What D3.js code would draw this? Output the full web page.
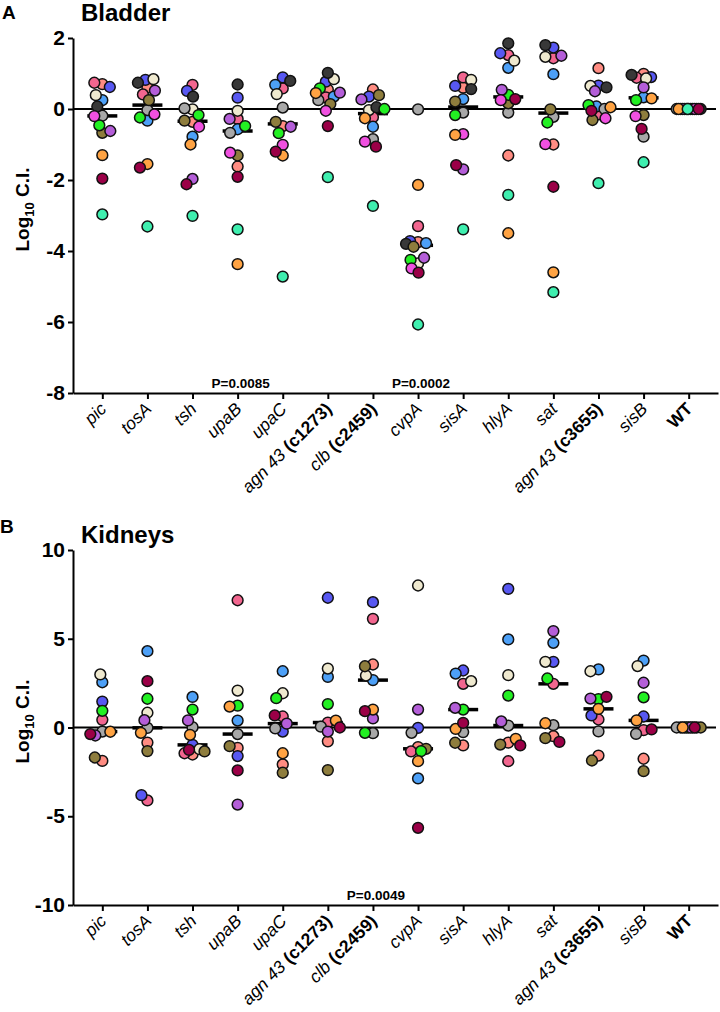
<!DOCTYPE html>
<html><head><meta charset="utf-8">
<script src="https://cdn.jsdelivr.net/npm/d3@7"></script>
<style>body{margin:0;background:#fff}svg{display:block;font-family:"Liberation Sans",Arial,sans-serif}</style>
</head><body>
<svg id="chart" width="720" height="1012"></svg>
<script>
// ---------- DATA ----------
const genes = ["pic","tosA","tsh","upaB","upaC","agn43_c1273","clb_c2459","cvpA","sisA","hlyA","sat","agn43_c3655","sisB","WT"];
const geneLabels = [
  [["pic","i"]],[["tosA","i"]],[["tsh","i"]],[["upaB","i"]],[["upaC","i"]],
  [["agn 43 ","i"],["(c1273)","b"]],
  [["clb ","i"],["(c2459)","b"]],
  [["cvpA","i"]],[["sisA","i"]],[["hlyA","i"]],[["sat","i"]],
  [["agn 43 ","i"],["(c3655)","b"]],
  [["sisB","i"]],[["WT","b"]]
];
// mice (one colour per animal)
const mice = ["salmon","pink","blue","lightblue","beige","gray","darkgray","olive","green","purple","magenta","orange","maroon","aqua"];
const mouseColors = ["#FF8C82","#F2668F","#5858F2","#4DA0F7","#EFE9CF","#A8A8A8","#383838","#8E7D3D","#22F022","#B45ED8","#F050E0","#FFA343","#9B0047","#3FEFAF"];

// Bladder log10 C.I. — rows = genes, columns = mice
const bladder = [
  [0.70,0.74,0.62,0.25,0.39,-0.19,0.07,-0.67,-0.46,-0.62,-0.20,-1.30,-1.96,-2.97],
  [0.60,0.41,0.82,-0.33,0.84,-0.03,0.74,0.25,-0.24,0.52,-0.15,-1.55,-1.65,-3.31],
  [-0.36,0.68,0.51,-0.78,-0.01,0.02,0.35,-0.33,-0.17,-1.97,-0.50,-1.00,-2.12,-3.01],
  [-1.62,-0.28,0.32,-0.57,-0.05,-0.67,0.69,-1.31,-0.48,-0.28,-1.23,-4.37,-1.91,-3.39],
  [-0.48,0.58,0.89,0.68,0.42,0.04,0.79,-0.36,-0.68,-0.50,-1.01,-1.31,-1.20,-4.72],
  [0.55,0.33,0.77,0.35,0.84,0.25,1.02,0.14,0.58,0.46,-0.05,0.45,-0.48,-1.92],
  [0.55,-0.23,0.35,-0.50,-0.03,-0.85,0.05,0.39,0.00,0.27,-0.92,-0.26,-1.06,-2.73],
  [-3.75,-3.30,-3.72,-3.78,-4.35,-0.01,-3.80,-3.88,-4.25,-4.19,-4.49,-2.14,-4.61,-6.07],
  [0.60,0.89,0.65,0.28,0.82,-0.10,0.56,0.21,-0.17,-1.70,-0.71,-0.73,-1.58,-3.39],
  [-1.31,1.52,1.57,1.16,1.36,-0.10,1.85,0.16,0.40,0.54,0.25,-3.50,0.28,-2.42],
  [-1.00,1.43,1.73,0.98,1.47,-0.22,1.80,-0.01,-0.38,1.50,-0.99,-4.60,-2.19,-5.16],
  [1.15,-0.15,0.66,0.07,0.65,0.00,0.61,-0.31,0.11,0.50,-0.26,0.05,-0.05,-2.09],
  [0.99,0.88,0.90,0.33,0.86,-0.78,0.96,-0.17,0.25,0.61,-0.20,0.30,-0.56,-1.50],
  [0,0,0,0,0,0,0,0,0,0,0,0,0,0]
];
// Kidneys log10 C.I.
const kidneys = [
  [-1.88,0.43,1.46,2.55,2.99,-0.23,null,-1.69,0.94,-0.45,null,-0.24,-0.37,null],
  [-0.85,-4.11,-3.81,4.30,0.83,-0.02,null,-1.33,1.62,0.41,null,-0.30,2.61,null],
  [-1.52,-1.45,-0.98,1.72,-1.22,0.02,null,-1.35,1.01,0.40,null,-0.41,-1.26,null],
  [-1.15,7.17,-1.61,0.39,2.08,-0.37,null,-1.05,1.23,-4.34,null,1.18,-2.42,null],
  [-2.08,0.62,-0.23,3.17,1.93,-0.05,null,-2.55,1.65,0.22,null,-1.45,0.68,null],
  [-0.78,0.28,7.31,2.85,3.32,0.05,null,-2.40,1.32,-0.23,null,0.39,0.00,null],
  [3.55,6.12,7.06,2.67,2.93,-0.32,null,3.45,-0.30,0.51,null,1.01,0.92,null],
  [-1.10,-1.35,-0.02,-2.87,8.00,-0.30,null,-1.20,-1.33,1.01,null,-1.90,-5.65,null],
  [-1.01,2.46,3.21,3.04,2.61,-0.26,null,-0.86,1.01,1.11,null,-0.08,0.26,null],
  [-0.85,-1.90,7.81,4.96,2.95,0.11,null,-0.96,1.80,0.34,null,-0.64,-1.01,null],
  [-0.49,2.46,3.70,4.77,3.70,0.13,null,-0.60,2.76,5.43,null,0.24,-0.81,null],
  [-1.58,0.45,0.68,3.27,3.17,-0.22,null,-1.86,1.60,1.63,null,1.05,1.73,null],
  [-1.76,-0.15,0.62,3.77,3.46,-0.36,null,-2.46,1.70,2.52,null,0.40,-0.11,null],
  [0,0,0,0,0,0,null,0,0,0,null,0,0,null]
];
const bladderTicks = [2,0,-2,-4,-6,-8];
const kidneyTicks = [10,5,0,-5,-10];
const bladderP = [["upaB","P=0.0085"],["cvpA","P=0.0002"]];
const kidneyP = [["clb_c2459","P=0.0049"]];

// ---------- DRAW ----------
const svg = d3.select("#chart");
const x = d3.scalePoint().domain(genes).range([73, 718]).padding(0.65);

function dodge(vals, y, cx) {
  const placed = [];
  const d = 8, maxOff = 12;
  vals.forEach(p => {
    const py = y(p.v);
    let best = 0, bestCost = Infinity;
    for (let c = -maxOff; c <= maxOff; c += 0.5) {
      let md = Infinity;
      placed.forEach(q => { md = Math.min(md, Math.hypot(cx + c - q.x, py - q.y)); });
      const cost = md >= d ? Math.abs(c) : 1000 + (d - md) * 10 + Math.abs(c) * 0.01;
      if (cost < bestCost) { bestCost = cost; best = c; }
    }
    placed.push({x: cx + best, y: py, m: p.m});
  });
  return placed;
}

function panel(cfg) {
  const g = svg.append("g");
  const y = d3.scaleLinear().domain(cfg.domain).range([cfg.bottom, cfg.top]);

  // letter + title
  g.append("text").attr("x", cfg.letterX).attr("y", cfg.letterY).attr("font-size", 19).attr("font-weight", "bold").text(cfg.letter);
  g.append("text").attr("x", 81).attr("y", cfg.titleY).attr("font-size", 24).attr("font-weight", "bold").text(cfg.title);

  // y axis
  const ya = g.append("g").attr("transform", "translate(73,0)")
    .call(d3.axisLeft(y).tickValues(cfg.ticks).tickSize(5).tickSizeOuter(0).tickPadding(3).tickFormat(d => String(d)));
  ya.select(".domain").attr("stroke-width", 2).attr("stroke", "#000");
  ya.selectAll(".tick line").attr("stroke-width", 2);
  ya.selectAll(".tick text").attr("font-size", 21).attr("font-weight", "bold").attr("fill", "#000")
    .attr("font-family", "'Liberation Sans',Arial,sans-serif");

  // y axis title
  const yt = g.append("text").attr("transform", `translate(29,${(cfg.top + cfg.bottom) / 2 - 6}) rotate(-90)`)
    .attr("text-anchor", "middle").attr("font-size", 19).attr("font-weight", "bold");
  yt.append("tspan").text("Log");
  yt.append("tspan").attr("font-size", 13).attr("dy", 5).text("10");
  yt.append("tspan").attr("dy", -5).text(" C.I.");

  // x axis
  const xa = g.append("g").attr("transform", `translate(0,${cfg.bottom})`)
    .call(d3.axisBottom(x).tickSize(6).tickSizeOuter(0).tickFormat(""));
  xa.select(".domain").attr("stroke-width", 2).attr("stroke", "#000");
  xa.selectAll(".tick line").attr("stroke-width", 2);

  genes.forEach((gname, i) => {
    const t = g.append("text")
      .attr("transform", `translate(${x(gname) + 5},${cfg.bottom + 17}) rotate(-45)`)
      .attr("text-anchor", "end").attr("font-size", 17.5);
    geneLabels[i].forEach(([s, st]) => {
      t.append("tspan").text(s)
        .attr("font-style", st === "i" ? "italic" : "normal")
        .attr("font-weight", st === "b" ? "bold" : "normal");
    });
  });

  // zero line
  g.append("line").attr("x1", 73).attr("x2", 716).attr("y1", y(0)).attr("y2", y(0))
    .attr("stroke", "#000").attr("stroke-width", 2);

  // median bars
  cfg.data.forEach((row, i) => {
    const med = d3.median(row.filter(v => v !== null));
    g.append("line").attr("x1", x(genes[i]) - 15).attr("x2", x(genes[i]) + 15)
      .attr("y1", y(med)).attr("y2", y(med)).attr("stroke", "#000").attr("stroke-width", 3.5);
  });

  // dots
  cfg.data.forEach((row, i) => {
    const vals = row.map((v, m) => ({v, m})).filter(p => p.v !== null);
    const pts = dodge(vals, y, x(genes[i]));
    g.selectAll(null).data(pts).enter().append("circle")
      .attr("cx", d => d.x).attr("cy", d => d.y).attr("r", 5.4)
      .attr("fill", d => mouseColors[d.m]).attr("stroke", "#111").attr("stroke-width", 1.5);
  });

  // p values
  cfg.pvals.forEach(([gname, label]) => {
    g.append("text").attr("x", x(gname) + 3).attr("y", cfg.bottom - 5).attr("text-anchor", "middle")
      .attr("font-size", 13.5).attr("font-weight", "bold").text(label);
  });
}

panel({letter: "A", letterX: 2, letterY: 19, title: "Bladder", titleY: 21, domain: [-8, 2], top: 38, bottom: 393, ticks: bladderTicks, data: bladder, pvals: bladderP});
panel({letter: "B", letterX: 0, letterY: 533, title: "Kidneys", titleY: 543, domain: [-10, 10], top: 550, bottom: 905, ticks: kidneyTicks, data: kidneys, pvals: kidneyP});
</script>
</body></html>
